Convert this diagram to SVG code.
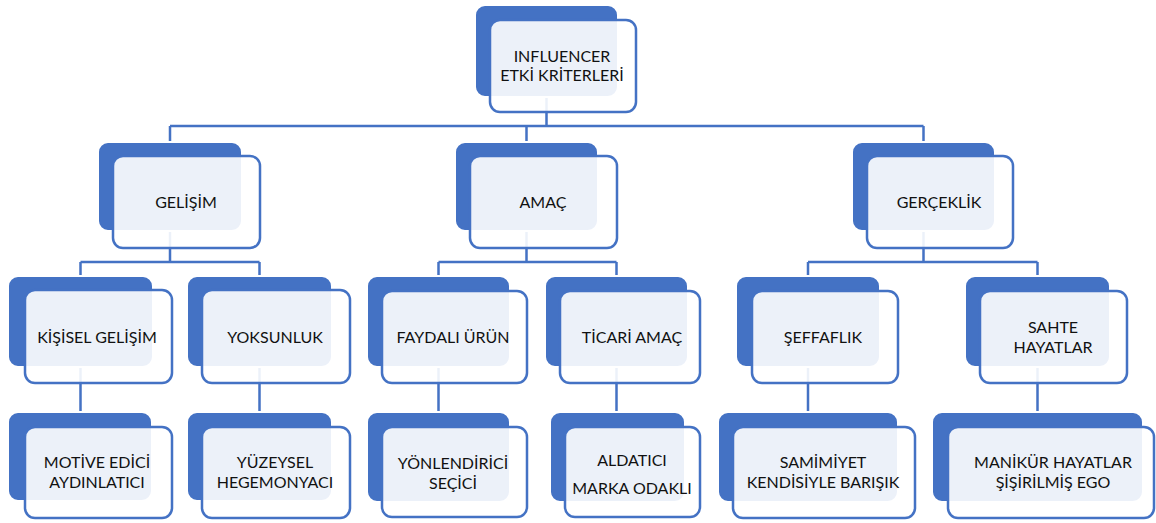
<svg xmlns="http://www.w3.org/2000/svg" width="1156" height="523" viewBox="0 0 1156 523">
<style>
.c{fill:none;stroke:#4472C4;stroke-width:2.5}
.b{fill:#4472C4;stroke:#fff;stroke-width:2}
.f{fill:#fff;fill-opacity:0.9;stroke:#4472C4;stroke-width:2.5}
text{font-family:Lato,"Open Sans","Liberation Sans",sans-serif;font-size:16px;fill:#111;text-anchor:middle}
</style>
<rect width="1156" height="523" fill="#fff"/>
<g id="connectors">
<path class="c" d="M546.5 55V126M170 126H923.5M170 126V142M526.5 126V142M923.5 126V142"/>
<path class="c" d="M170 186V262M80.5 262H259.5M80.5 262V276M259.5 262V276"/>
<path class="c" d="M526.5 186V262M438.5 262H616.5M438.5 262V276M616.5 262V276"/>
<path class="c" d="M923.5 186V262M808 262H1037.5M808 262V276M1037.5 262V276"/>
<path class="c" d="M80.5 320V412M259.5 320V412M438.5 320V412M616.5 320V412M808 320V412M1037.5 320V412"/>
</g>
<g id="n-root"><rect class="b" x="475" y="5" width="143" height="92" rx="10"/><rect class="f" x="490" y="20" width="146" height="92" rx="10"/><text x="562" y="62">INFLUENCER</text><text x="562" y="81">ETKİ KRİTERLERİ</text></g>
<g id="n-gelisim"><rect class="b" x="98" y="142" width="144" height="89" rx="10"/><rect class="f" x="113" y="156" width="147" height="92" rx="10"/><text x="186" y="208">GELİŞİM</text></g>
<g id="n-amac"><rect class="b" x="455" y="142" width="143" height="89" rx="10"/><rect class="f" x="470" y="156" width="147" height="92" rx="10"/><text x="543" y="208">AMAÇ</text></g>
<g id="n-gerceklik"><rect class="b" x="852" y="142" width="143" height="89" rx="10"/><rect class="f" x="867" y="156" width="146" height="92" rx="10"/><text x="939" y="208">GERÇEKLİK</text></g>
<g id="n-kisisel"><rect class="b" x="8" y="276" width="145" height="91" rx="10"/><rect class="f" x="25" y="290" width="147" height="93" rx="10"/><text x="97" y="343">KİŞİSEL GELİŞİM</text></g>
<g id="n-yoksunluk"><rect class="b" x="187" y="276" width="145" height="91" rx="10"/><rect class="f" x="202" y="290" width="148" height="93" rx="10"/><text x="275" y="343">YOKSUNLUK</text></g>
<g id="n-faydali"><rect class="b" x="367" y="276" width="143" height="91" rx="10"/><rect class="f" x="382" y="291" width="145" height="92" rx="10"/><text x="453" y="343">FAYDALI ÜRÜN</text></g>
<g id="n-ticari"><rect class="b" x="545" y="276" width="143" height="91" rx="10"/><rect class="f" x="560" y="291" width="140" height="92" rx="10"/><text x="632" y="343">TİCARİ AMAÇ</text></g>
<g id="n-seffaflik"><rect class="b" x="736" y="276" width="144" height="91" rx="10"/><rect class="f" x="752" y="291" width="146" height="92" rx="10"/><text x="823" y="343">ŞEFFAFLIK</text></g>
<g id="n-sahte"><rect class="b" x="965" y="276" width="145" height="91" rx="10"/><rect class="f" x="980" y="291" width="147" height="92" rx="10"/><text x="1053" y="333">SAHTE</text><text x="1053" y="353">HAYATLAR</text></g>
<g id="n-motive"><rect class="b" x="8" y="412" width="144" height="89" rx="10"/><rect class="f" x="25" y="427" width="147" height="91" rx="10"/><text x="97" y="468">MOTİVE EDİCİ</text><text x="97" y="488">AYDINLATICI</text></g>
<g id="n-yuzeysel"><rect class="b" x="187" y="412" width="145" height="89" rx="10"/><rect class="f" x="202" y="427" width="148" height="91" rx="10"/><text x="275" y="468">YÜZEYSEL</text><text x="275" y="488">HEGEMONYACI</text></g>
<g id="n-yonlendirici"><rect class="b" x="367" y="412" width="143" height="90" rx="10"/><rect class="f" x="382" y="427" width="145" height="90" rx="10"/><text x="453" y="469">YÖNLENDİRİCİ</text><text x="453" y="489">SEÇİCİ</text></g>
<g id="n-aldatici"><rect class="b" x="550" y="412" width="135" height="90" rx="10"/><rect class="f" x="565" y="427" width="135" height="90" rx="10"/><text x="632" y="466">ALDATICI</text><text x="632" y="494">MARKA ODAKLI</text></g>
<g id="n-samimiyet"><rect class="b" x="718" y="412" width="180" height="90" rx="10"/><rect class="f" x="733" y="427" width="182" height="91" rx="10"/><text x="823" y="468">SAMİMİYET</text><text x="823" y="488">KENDİSİYLE BARIŞIK</text></g>
<g id="n-manikur"><rect class="b" x="932" y="412" width="211" height="90" rx="10"/><rect class="f" x="948" y="427" width="206" height="91" rx="10"/><text x="1053" y="468">MANİKÜR HAYATLAR</text><text x="1053" y="488">ŞİŞİRİLMİŞ EGO</text></g>
</svg>
